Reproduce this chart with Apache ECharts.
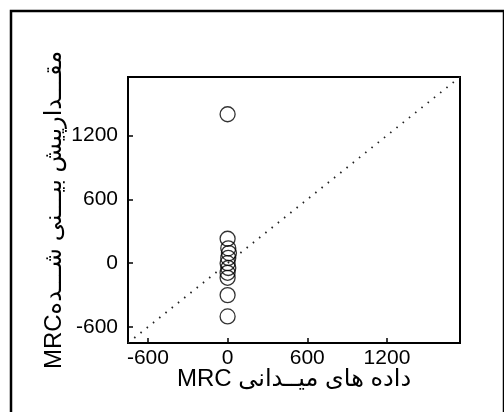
<!DOCTYPE html>
<html>
<head>
<meta charset="utf-8">
<script src="https://cdn.jsdelivr.net/npm/echarts@6/dist/echarts.min.js"></script>
<style>
  html, body { margin: 0; padding: 0; background: #fff; }
  #chart { width: 504px; height: 412px; }
</style>
</head>
<body>
<div id="chart"></div>
<script>
// field data (x) vs predicted (y), MRC
const fieldValues = [0, 0, 5, 10, 5, 0, 5, 0, 0, 0, 0]
const predictedValues = [1400, 230, 140, 95, 50, 0, -45, -90, -137, -300, -500]
const axisRange = [-750, 1750]
const tickValues = [-600, 0, 600, 1200]

const xTitle = 'MRC داده های میــدانی'
const yTitle = 'MRCمقـــدارپیش بیـــنی شـــده'

const font = 'Liberation Sans, Arial, DejaVu Sans, sans-serif'

const myChart = echarts.init(document.getElementById('chart'))

const points = fieldValues.map((v, i) => [v, predictedValues[i]])

const axisCommon = {
    type: 'value',
    min: axisRange[0],
    max: axisRange[1],
    interval: 150,
    axisLine: { show: true, onZero: false, lineStyle: { color: '#000', width: 2 } },
    axisTick: {
        show: true,
        inside: true,
        length: 5,
        lineStyle: { color: '#000', width: 1.5 },
        customValues: tickValues
    },
    axisLabel: {
        show: true,
        color: '#000',
        fontSize: 21,
        fontFamily: font,
        customValues: tickValues,
        formatter: v => String(v)
    },
    splitLine: { show: false },
    nameLocation: 'middle',
    nameMoveOverlap: false,
    nameTextStyle: { color: '#000', fontSize: 24, fontFamily: font }
}

const option = {
    animation: false,
    backgroundColor: '#fff',
    grid: {
        left: 128,
        right: 44,
        top: 77,
        bottom: 69,
        show: true,
        borderColor: '#000',
        borderWidth: 2
    },
    graphic: [
        {
            type: 'rect',
            shape: { x: 11, y: 11, width: 493, height: 420 },
            style: { fill: 'none', stroke: '#000', lineWidth: 2.5 }
        }
    ],
    xAxis: Object.assign({}, axisCommon, {
        name: xTitle,
        nameGap: 24,
        axisLabel: Object.assign({}, axisCommon.axisLabel, { margin: 5 })
    }),
    yAxis: Object.assign({}, axisCommon, {
        name: yTitle,
        nameGap: 62,
        axisLabel: Object.assign({}, axisCommon.axisLabel, { margin: 10 })
    }),
    series: [
        {
            type: 'line',
            data: [[axisRange[0], axisRange[0]], [axisRange[1], axisRange[1]]],
            showSymbol: false,
            lineStyle: { color: '#222', width: 1.8, type: [1.5, 6.5] },
            silent: true,
            z: 1
        },
        {
            type: 'scatter',
            data: points,
            symbol: 'circle',
            symbolSize: 15,
            itemStyle: { color: 'rgba(255,255,255,0)', borderColor: '#000', borderWidth: 1.3 },
            z: 2
        }
    ]
}

myChart.setOption(option)
</script>
</body>
</html>
